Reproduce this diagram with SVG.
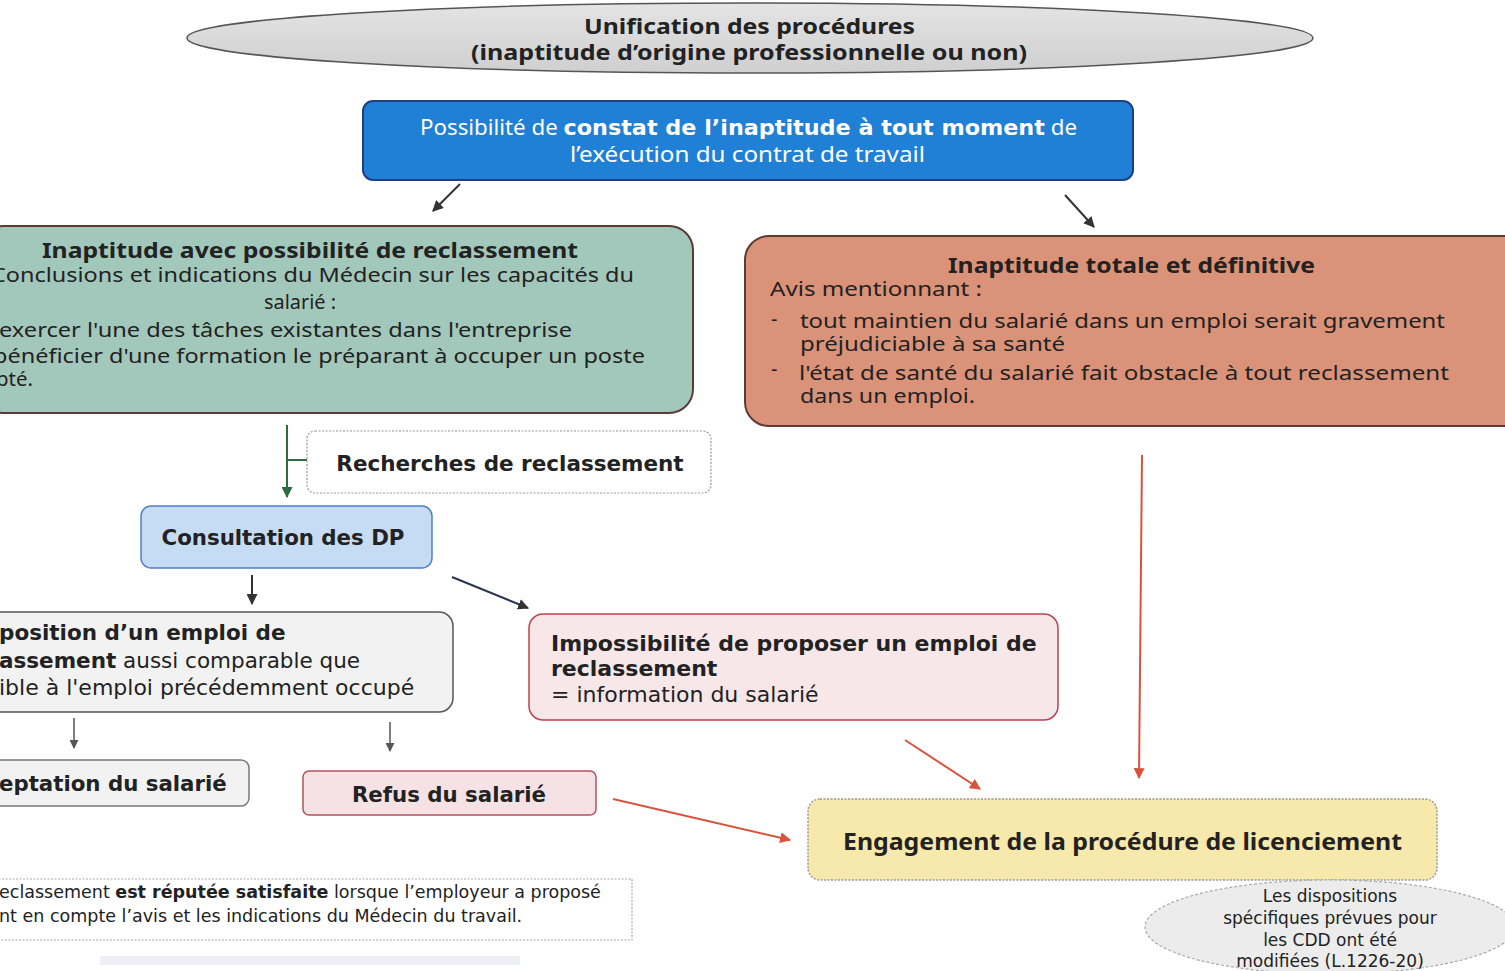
<svg xmlns="http://www.w3.org/2000/svg" width="1505" height="971" viewBox="0 0 1505 971">
<defs>
<marker id="ad" viewBox="0 0 10 10" refX="9" refY="5" markerWidth="5.5" markerHeight="5.5" orient="auto"><path d="M0,0 L10,5 L0,10 z" fill="#333"/></marker>
<marker id="ag" viewBox="0 0 10 10" refX="9" refY="5" markerWidth="5.5" markerHeight="5.5" orient="auto"><path d="M0,0 L10,5 L0,10 z" fill="#2e6b40"/></marker>
<marker id="agr" viewBox="0 0 10 10" refX="9" refY="5" markerWidth="6" markerHeight="6" orient="auto"><path d="M0,0 L10,5 L0,10 z" fill="#555"/></marker>
<marker id="ar" viewBox="0 0 10 10" refX="9" refY="5" markerWidth="5.5" markerHeight="5.5" orient="auto"><path d="M0,0 L10,5 L0,10 z" fill="#d9533c"/></marker>
<linearGradient id="gEll" x1="0" y1="0" x2="0" y2="1"><stop offset="0" stop-color="#e4e4e4"/><stop offset="1" stop-color="#cfcfcf"/></linearGradient>
</defs>
<style>
.v{font-family:"DejaVu Sans",Verdana,sans-serif;fill:#222}
.t{font-family:"Noto Sans","DejaVu Sans",sans-serif;fill:#222}
.b{font-weight:bold}
.w{fill:#fff}
</style>
<rect width="1505" height="971" fill="#fff"/>
<g id="connectors" fill="none">
<line x1="460" y1="184" x2="433" y2="211" stroke="#333" stroke-width="2" marker-end="url(#ad)"/>
<line x1="1065" y1="195" x2="1094" y2="227" stroke="#333" stroke-width="2" marker-end="url(#ad)"/>
<line x1="287" y1="425" x2="287" y2="497" stroke="#2e6b40" stroke-width="2" marker-end="url(#ag)"/>
<line x1="287" y1="460" x2="307" y2="460" stroke="#2e6b40" stroke-width="2"/>
<line x1="252" y1="575" x2="252" y2="604" stroke="#333" stroke-width="2" marker-end="url(#ad)"/>
<line x1="452" y1="577" x2="528" y2="608" stroke="#2a3550" stroke-width="2" marker-end="url(#ad)"/>
<line x1="74" y1="718" x2="74" y2="748" stroke="#555" stroke-width="1.5" marker-end="url(#agr)"/>
<line x1="390" y1="722" x2="390" y2="751" stroke="#555" stroke-width="1.5" marker-end="url(#agr)"/>
<line x1="905" y1="740" x2="980" y2="789" stroke="#d9533c" stroke-width="2" marker-end="url(#ar)"/>
<line x1="1142" y1="455" x2="1139" y2="778" stroke="#d9533c" stroke-width="2" marker-end="url(#ar)"/>
<line x1="613" y1="799" x2="790" y2="840" stroke="#d9533c" stroke-width="2" marker-end="url(#ar)"/>
</g>
<g id="n-unification">
<ellipse cx="750" cy="38" rx="563" ry="35" fill="url(#gEll)" stroke="#555" stroke-width="1.5"/>
<text class="t b" x="584" y="34" font-size="22" textLength="331" lengthAdjust="spacingAndGlyphs">Unification des procédures</text>
<text class="t b" x="471" y="60" font-size="22" textLength="556" lengthAdjust="spacingAndGlyphs">(inaptitude d’origine professionnelle ou non)</text>
</g>
<g id="n-constat">
<rect x="363" y="101" width="770" height="79" rx="10" fill="#1f80d6" stroke="#1c3f86" stroke-width="2"/>
<text class="t w" x="420" y="135" font-size="22" textLength="657" lengthAdjust="spacingAndGlyphs">Possibilité de <tspan class="v b w">constat de l’inaptitude à tout moment</tspan> de</text>
<text class="t w" x="570" y="162" font-size="21" textLength="355" lengthAdjust="spacingAndGlyphs">l’exécution du contrat de travail</text>
</g>
<g id="n-reclassement">
<rect x="-20" y="226" width="713" height="187" rx="24" fill="#a2c8bb" stroke="#5e3a35" stroke-width="2"/>
<text class="t b" x="42" y="258" font-size="22" textLength="536" lengthAdjust="spacingAndGlyphs">Inaptitude avec possibilité de reclassement</text>
<text class="t" x="-9" y="282" font-size="20" textLength="643" lengthAdjust="spacingAndGlyphs">Conclusions et indications du Médecin sur les capacités du</text>
<text class="t" x="264" y="309" font-size="20" textLength="72" lengthAdjust="spacingAndGlyphs">salarié :</text>
<text class="t" x="-1" y="337" font-size="20" textLength="573" lengthAdjust="spacingAndGlyphs">exercer l'une des tâches existantes dans l'entreprise</text>
<text class="t" x="-7" y="363" font-size="20" textLength="652" lengthAdjust="spacingAndGlyphs">bénéficier d'une formation le préparant à occuper un poste</text>
<text class="t" x="-4" y="386" font-size="20" textLength="37" lengthAdjust="spacingAndGlyphs">pté.</text>
</g>
<g id="n-totale">
<rect x="745" y="236" width="790" height="190" rx="24" fill="#da9379" stroke="#5e3a35" stroke-width="2"/>
<text class="t b" x="948" y="273" font-size="22" textLength="367" lengthAdjust="spacingAndGlyphs">Inaptitude totale et définitive</text>
<text class="t" x="770" y="296" font-size="20" textLength="212" lengthAdjust="spacingAndGlyphs">Avis mentionnant :</text>
<text class="t" x="771" y="326" font-size="20">-</text>
<text class="t" x="800" y="328" font-size="20" textLength="645" lengthAdjust="spacingAndGlyphs">tout maintien du salarié dans un emploi serait gravement</text>
<text class="t" x="800" y="351" font-size="20" textLength="265" lengthAdjust="spacingAndGlyphs">préjudiciable à sa santé</text>
<text class="t" x="771" y="376" font-size="20">-</text>
<text class="t" x="799" y="380" font-size="20" textLength="650" lengthAdjust="spacingAndGlyphs">l'état de santé du salarié fait obstacle à tout reclassement</text>
<text class="t" x="800" y="403" font-size="20" textLength="175" lengthAdjust="spacingAndGlyphs">dans un emploi.</text>
</g>
<g id="n-recherches">
<rect x="307" y="431" width="404" height="62" rx="8" fill="#fff" stroke="#999" stroke-width="1.2" stroke-dasharray="2 1.5"/>
<text class="v b" x="510" y="471" font-size="21.5" text-anchor="middle">Recherches de reclassement</text>
</g>
<g id="n-consultation">
<rect x="141" y="506" width="291" height="62" rx="10" fill="#c6dbf4" stroke="#4f80c8" stroke-width="1.5"/>
<text class="v b" x="283" y="545" font-size="21.3" text-anchor="middle">Consultation des DP</text>
</g>
<g id="n-proposition">
<rect x="-20" y="612" width="473" height="100" rx="14" fill="#f2f2f2" stroke="#555" stroke-width="1.5"/>
<text class="v b" x="-1" y="640" font-size="21.5">position d’un emploi de</text>
<text class="v" x="-1" y="668" font-size="21.5"><tspan class="b">assement</tspan> aussi comparable que</text>
<text class="v" x="-1" y="695" font-size="22">ible à l'emploi précédemment occupé</text>
</g>
<g id="n-acceptation">
<rect x="-20" y="760" width="269" height="46" rx="8" fill="#f2f2f2" stroke="#777" stroke-width="1.5"/>
<text class="v b" x="-1" y="791" font-size="21.3">eptation du salarié</text>
</g>
<g id="n-refus">
<rect x="303" y="771" width="293" height="44" rx="6" fill="#f6e2e4" stroke="#b8505e" stroke-width="1.5"/>
<text class="v b" x="449" y="802" font-size="21.3" text-anchor="middle">Refus du salarié</text>
</g>
<g id="n-impossibilite">
<rect x="529" y="614" width="529" height="106" rx="14" fill="#f7e7e9" stroke="#c0404f" stroke-width="1.5"/>
<text class="v b" x="551" y="651" font-size="22">Impossibilité de proposer un emploi de</text>
<text class="v b" x="551" y="676" font-size="22">reclassement</text>
<text class="v" x="551" y="702" font-size="22">= information du salarié</text>
</g>
<g id="n-engagement">
<rect x="808" y="799" width="629" height="81" rx="12" fill="#f7e8ab" stroke="#999" stroke-width="1.5" stroke-dasharray="2 1.5"/>
<text class="t b" x="843" y="850" font-size="23" textLength="559" lengthAdjust="spacingAndGlyphs">Engagement de la procédure de licenciement</text>
</g>
<g id="n-note">
<rect x="-5" y="879" width="637" height="61" fill="#fff" stroke="#aaa" stroke-width="1.2" stroke-dasharray="2 1.5"/>
<text class="v" x="-1" y="898" font-size="17.5">eclassement <tspan class="b">est réputée satisfaite</tspan> lorsque l’employeur a proposé</text>
<text class="v" x="-1" y="922" font-size="17.5">nt en compte l’avis et les indications du Médecin du travail.</text>
</g>
<rect x="100" y="956" width="420" height="9" fill="#eef0f6"/>
<g id="n-cdd">
<ellipse cx="1330" cy="927" rx="185" ry="47" fill="#ececec" stroke="#aaa" stroke-width="1.2" stroke-dasharray="3 2"/>
<text class="v" x="1330" y="902" font-size="17" text-anchor="middle">Les dispositions</text>
<text class="v" x="1330" y="924" font-size="17" text-anchor="middle">spécifiques prévues pour</text>
<text class="v" x="1330" y="946" font-size="17" text-anchor="middle">les CDD ont été</text>
<text class="v" x="1330" y="967" font-size="17" text-anchor="middle">modifiées (L.1226-20)</text>
</g>
</svg>
